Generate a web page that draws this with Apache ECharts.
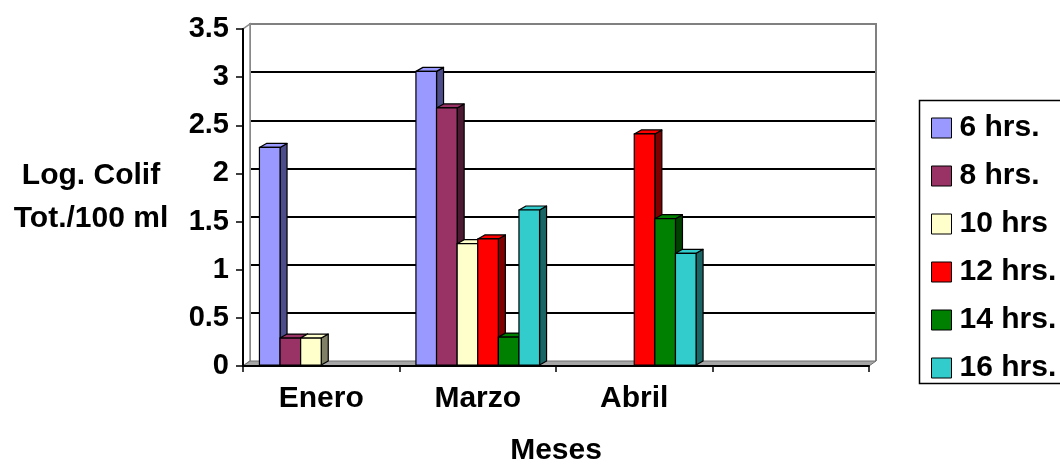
<!DOCTYPE html>
<html>
<head>
<meta charset="utf-8">
<title>Log. Colif Tot./100 ml por mes</title>
<script src="https://cdn.jsdelivr.net/npm/echarts@6/dist/echarts.min.js"></script>
<style>
  html, body { margin: 0; padding: 0; background: #fff; }
  #chart { width: 1060px; height: 468px; }
</style>
</head>
<body>
<div id="chart"></div>
<script>
// Months on the category axis (the last slot is left empty)
const CATEGORIES = ['Enero', 'Marzo', 'Abril', ''];

// Series names (sampling interval)
const SERIES_NAMES = ['6 hrs.', '8 hrs.', '10 hrs', '12 hrs.', '14 hrs.', '16 hrs.'];

// Log. total coliforms per 100 ml, one array per series (null = no measurement)
const HRS_6  = [2.27, 3.06, null, null];
const HRS_8  = [0.29, 2.68, null, null];
const HRS_10 = [0.29, 1.27, null, null];
const HRS_12 = [null, 1.32, 2.41, null];
const HRS_14 = [null, 0.30, 1.53, null];
const HRS_16 = [null, 1.62, 1.17, null];

// Value axis ticks
const Y_MIN = 0;
const Y_MAX = 3.5;
const Y_STEP = 0.5;

const SERIES_VALUES = [HRS_6, HRS_8, HRS_10, HRS_12, HRS_14, HRS_16];

// Face colours: front/top and shaded side
const FRONT_COLORS = ['#9999FF', '#993366', '#FFFFCC', '#FF0000', '#008000', '#33CCCC'];
const SIDE_COLORS  = ['#4D4D8C', '#4D1A33', '#808066', '#800000', '#004000', '#1A6666'];

const FONT = '"Liberation Sans", Arial, Helvetica, sans-serif';

// Oblique projection of the depth dimension
const BAR_DX = 7, BAR_DY = 4;     // depth of each column
const WALL_DX = 7, WALL_DY = 5;   // depth of the floor / back wall
const GROUP_RATIO = 0.79;         // share of a category band taken by its columns

// Front plane (axes) and back wall plane
const FRONT = { left: 243, right: 191, top: 29, bottom: 102 };
const BACK = {
  left: FRONT.left + WALL_DX, right: FRONT.right - WALL_DX,
  top: FRONT.top - WALL_DY, bottom: FRONT.bottom + WALL_DY
};

// Legend frame (runs past the right edge of the canvas)
const LEGEND_BOX = { x: 919, y: 100, w: 220, h: 283 };

const chart = echarts.init(document.getElementById('chart'), null, { renderer: 'canvas' });

function columnRenderer(seriesIndex) {
  return function (params, api) {
    const v = api.value(1);
    if (v === null || v === undefined || isNaN(v)) return null;
    const cat = api.value(0);
    const base = api.coord([cat, 0]);
    const tip = api.coord([cat, v]);
    const band = api.size([1, 0])[0];
    const groupW = band * GROUP_RATIO;
    const bw = groupW / SERIES_NAMES.length;
    const x0 = base[0] - groupW / 2 + seriesIndex * bw;
    const x1 = x0 + bw;
    const yb = base[1] - 1;
    const yt = tip[1];
    const front = FRONT_COLORS[seriesIndex];
    const side = SIDE_COLORS[seriesIndex];
    const edge = { stroke: '#000', lineWidth: 1.2, lineJoin: 'round' };
    return {
      type: 'group',
      children: [
        {
          type: 'polygon',
          shape: { points: [[x1, yt], [x1 + BAR_DX, yt - BAR_DY], [x1 + BAR_DX, yb - BAR_DY], [x1, yb]] },
          style: Object.assign({ fill: side }, edge)
        },
        {
          type: 'polygon',
          shape: { points: [[x0, yt], [x1, yt], [x1 + BAR_DX, yt - BAR_DY], [x0 + BAR_DX, yt - BAR_DY]] },
          style: Object.assign({ fill: front }, edge)
        },
        {
          type: 'rect',
          shape: { x: x0, y: yt, width: bw, height: yb - yt },
          style: Object.assign({ fill: front }, edge)
        }
      ]
    };
  };
}

const series = SERIES_NAMES.map(function (name, s) {
  return {
    name: name,
    type: 'custom',
    xAxisIndex: 0,
    yAxisIndex: 0,
    clip: false,
    z: 3,
    itemStyle: { color: FRONT_COLORS[s], borderColor: '#000', borderWidth: 1 },
    encode: { x: 0, y: 1 },
    renderItem: columnRenderer(s),
    data: SERIES_VALUES[s].map(function (v, i) { return [i, v]; })
  };
});

// Floor, side wall and back wall outline
const xFL = FRONT.left, xFR = 1060 - FRONT.right, yF0 = 468 - FRONT.bottom, yFT = FRONT.top;
const xBL = BACK.left, xBR = 1060 - BACK.right, yB0 = 468 - BACK.bottom, yBT = BACK.top;

const option = {
  backgroundColor: '#fff',
  animation: false,
  textStyle: { fontFamily: FONT, fontWeight: 'bold', color: '#000' },
  grid: [
    { left: FRONT.left, right: FRONT.right, top: FRONT.top, bottom: FRONT.bottom, containLabel: false, outerBoundsMode: 'none' },
    { left: BACK.left, right: BACK.right, top: BACK.top, bottom: BACK.bottom, containLabel: false, outerBoundsMode: 'none' }
  ],
  legend: {
    orient: 'vertical',
    left: LEGEND_BOX.x,
    top: LEGEND_BOX.y,
    padding: [13, 0, 0, 12],
    itemWidth: 20,
    itemHeight: 20,
    itemGap: 18,
    icon: 'rect',
    borderWidth: 0,
    itemStyle: { borderColor: '#000', borderWidth: 1 },
    textStyle: { fontFamily: FONT, fontWeight: 'bold', fontSize: 30, lineHeight: 30, color: '#000', padding: [0, 0, 0, 3] },
    data: SERIES_NAMES
  },
  xAxis: [
    {
      type: 'category',
      gridIndex: 0,
      data: CATEGORIES,
      boundaryGap: true,
      z: 4,
      axisLine: { show: true, lineStyle: { color: '#000', width: 2 } },
      axisTick: { show: true, length: 6, lineStyle: { color: '#000', width: 1.5 } },
      axisLabel: { margin: 18, fontFamily: FONT, fontWeight: 'bold', fontSize: 30, color: '#000' },
      splitLine: { show: false },
      name: 'Meses',
      nameLocation: 'middle',
      nameGap: 70,
      nameTextStyle: { fontFamily: FONT, fontWeight: 'bold', fontSize: 30, color: '#000' }
    },
    {
      type: 'category',
      gridIndex: 1,
      data: CATEGORIES,
      show: false
    }
  ],
  yAxis: [
    {
      type: 'value',
      gridIndex: 0,
      min: Y_MIN,
      max: Y_MAX,
      interval: Y_STEP,
      z: 4,
      axisLine: { show: true, lineStyle: { color: '#000', width: 2 } },
      axisTick: { show: true, length: 7, lineStyle: { color: '#000', width: 1.5 } },
      axisLabel: { margin: 14, fontFamily: FONT, fontWeight: 'bold', fontSize: 29, color: '#000' },
      splitLine: { show: false },
      name: 'Log. Colif\nTot./100 ml',
      nameLocation: 'middle',
      nameRotate: 0,
      nameGap: 152,
      nameTextStyle: {
        fontFamily: FONT, fontWeight: 'bold', fontSize: 30, lineHeight: 43,
        color: '#000', align: 'center', verticalAlign: 'middle'
      }
    },
    {
      type: 'value',
      gridIndex: 1,
      min: Y_MIN,
      max: Y_MAX,
      interval: Y_STEP,
      axisLine: { show: false },
      axisTick: { show: false },
      axisLabel: { show: false },
      splitLine: { show: true, showMinLine: false, showMaxLine: false, lineStyle: { color: '#000', width: 2 } }
    }
  ],
  graphic: [
    {
      // back wall outline
      type: 'polyline',
      z: 1,
      shape: { points: [[xBL, yB0], [xBL, yBT], [xBR, yBT], [xBR, yB0]] },
      style: { stroke: '#808080', lineWidth: 2, fill: null }
    },
    {
      // left side wall
      type: 'polygon',
      z: 1,
      shape: { points: [[xFL, yF0], [xFL, yFT], [xBL, yBT], [xBL, yB0]] },
      style: { stroke: '#8c8c8c', lineWidth: 1.5, fill: '#fff' }
    },
    {
      // floor
      type: 'polygon',
      z: 1,
      shape: { points: [[xFL, yF0], [xFR, yF0], [xBR, yB0], [xBL, yB0]] },
      style: { stroke: '#707070', lineWidth: 1, fill: '#a6a6a6' }
    },
    {
      // legend frame
      type: 'rect',
      z: 0,
      shape: { x: LEGEND_BOX.x + 0.5, y: LEGEND_BOX.y + 0.5, width: LEGEND_BOX.w, height: LEGEND_BOX.h },
      style: { stroke: '#000', lineWidth: 1.5, fill: '#fff' }
    }
  ],
  series: series
};

chart.setOption(option);
</script>
</body>
</html>
